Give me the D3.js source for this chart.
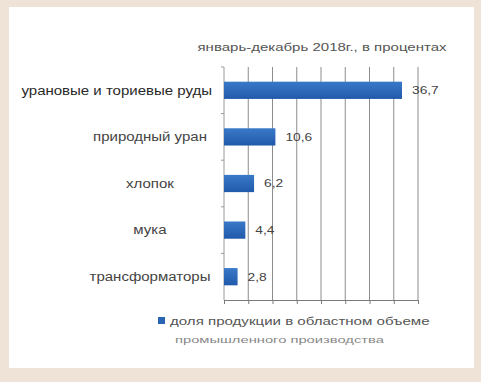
<!DOCTYPE html>
<html>
<head>
<meta charset="utf-8">
<script src="https://cdn.jsdelivr.net/npm/d3@7"></script>
<style>
  body { margin: 0; background: #efe3d7; }
  svg { display: block; }
</style>
</head>
<body>
<div id="chart"></div>
<script>
// данные с картинки
var categories = ["урановые и ториевые руды", "природный уран", "хлопок", "мука", "трансформаторы"];
var values = [36.7, 10.6, 6.2, 4.4, 2.8];
var valueLabels = ["36,7", "10,6", "6,2", "4,4", "2,8"];
var xTicks = [0, 5, 10, 15, 20, 25, 30, 35, 40];
var chartTitle = "январь-декабрь 2018г., в процентах";
var legendLines = ["доля продукции в областном объеме", "промышленного производства"];

var W = 481, H = 382;
var FONT = "Liberation Sans, Arial, sans-serif";
var svg = d3.select("#chart").append("svg").attr("width", W).attr("height", H);

// the picture's text is wide, stretch it horizontally
function stretch(sel, k) {
  sel.each(function() {
    var w = this.getComputedTextLength();
    d3.select(this).attr("textLength", w * k).attr("lengthAdjust", "spacingAndGlyphs");
  });
}

// beige frame, white panel
svg.append("rect").attr("width", W).attr("height", H).attr("fill", "#efe3d7");
svg.append("rect").attr("x", 9).attr("y", 7).attr("width", 465).attr("height", 361).attr("fill", "#ffffff");

// note: "top" is taken by window.top, so plot edges get their own names
var pLeft = 224, pRight = 418, pTop = 67, pBottom = 300;

var x = d3.scaleLinear().domain([0, 40]).range([pLeft, pRight]);
var y = d3.scaleBand().domain(categories).range([pTop, pBottom]).paddingInner(0.63).paddingOuter(0.315);
var yb = d3.scaleBand().domain(categories).range([pTop, pBottom]);

// vertical gridlines
svg.append("g").selectAll("line")
  .data(xTicks.slice(1))
  .enter().append("line")
  .attr("x1", function(d) { return x(d); })
  .attr("x2", function(d) { return x(d); })
  .attr("y1", pTop).attr("y2", pBottom)
  .attr("stroke", "#8c8c8c").attr("stroke-width", 1);

// bottom axis with small ticks
var xAxis = d3.axisBottom(x).tickValues(xTicks).tickSize(4).tickFormat("");
var gx = svg.append("g").attr("transform", "translate(0," + pBottom + ")").call(xAxis);
gx.select(".domain").attr("stroke", "#7a7a7a");
gx.selectAll(".tick line").attr("stroke", "#7a7a7a");

// left axis with tick marks between categories
svg.append("line").attr("x1", pLeft).attr("x2", pLeft).attr("y1", pTop).attr("y2", pBottom)
  .attr("stroke", "#9a9a9a");
svg.append("g").selectAll("line")
  .data(categories)
  .enter().append("line")
  .attr("x1", pLeft - 3).attr("x2", pLeft)
  .attr("y1", function(d) { return yb(d); })
  .attr("y2", function(d) { return yb(d); })
  .attr("stroke", "#9a9a9a");

// bars
var grad = svg.append("defs").append("linearGradient").attr("id", "barGrad")
  .attr("x1", 0).attr("y1", 0).attr("x2", 0).attr("y2", 1);
grad.append("stop").attr("offset", "0%").attr("stop-color", "#3a79c8");
grad.append("stop").attr("offset", "100%").attr("stop-color", "#2159ab");

svg.append("g").selectAll("rect")
  .data(values)
  .enter().append("rect")
  .attr("x", x(0))
  .attr("y", function(d, i) { return y(categories[i]); })
  .attr("width", function(d) { return x(d) - x(0); })
  .attr("height", y.bandwidth())
  .attr("fill", "url(#barGrad)");

// value labels
svg.append("g").selectAll("text")
  .data(values)
  .enter().append("text")
  .attr("x", function(d) { return x(d) + 10; })
  .attr("y", function(d, i) { return y(categories[i]) + y.bandwidth() / 2; })
  .attr("dy", "0.35em")
  .attr("font-family", FONT)
  .attr("font-size", 11)
  .attr("fill", "#444")
  .text(function(d, i) { return valueLabels[i]; })
  .call(stretch, 1.25);

// category labels: centred in the label area, but never past its right edge
var labelRight = 212, labelMid = 150;
svg.append("g").selectAll("text")
  .data(categories)
  .enter().append("text")
  .attr("y", function(d) { return y(d) + y.bandwidth() / 2; })
  .attr("dy", "0.35em")
  .attr("text-anchor", "middle")
  .attr("font-family", FONT)
  .attr("font-size", 12)
  .attr("fill", function(d, i) { return i == 0 ? "#2a2a2a" : "#444"; })
  .text(function(d) { return d; })
  .call(stretch, 1.25)
  .attr("x", function() {
    var w = +this.getAttribute("textLength");
    return Math.min(labelMid, labelRight - w / 2);
  });

// title
svg.append("text")
  .attr("x", 322).attr("y", 51)
  .attr("text-anchor", "middle")
  .attr("font-family", FONT)
  .attr("font-size", 10)
  .attr("fill", "#555")
  .text(chartTitle)
  .call(stretch, 1.5);

// legend
svg.append("rect").attr("x", 158).attr("y", 317).attr("width", 7).attr("height", 7).attr("fill", "#2a65b5");
svg.append("text")
  .attr("x", 170).attr("y", 325)
  .attr("font-family", FONT)
  .attr("font-size", 11)
  .attr("fill", "#555")
  .text(legendLines[0])
  .call(stretch, 1.37);
svg.append("text")
  .attr("x", 175).attr("y", 343)
  .attr("font-family", FONT)
  .attr("font-size", 9.5)
  .attr("fill", "#888")
  .text(legendLines[1])
  .call(stretch, 1.55);
</script>
</body>
</html>
